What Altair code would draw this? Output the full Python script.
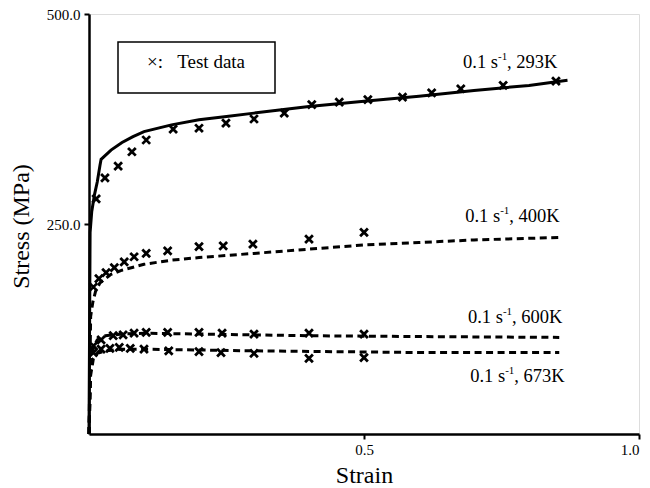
import altair as alt
import pandas as pd

# ---- data ----
x293 = [0, 0.002, 0.005, 0.01, 0.015, 0.02, 0.022, 0.04, 0.06, 0.08, 0.1, 0.15, 0.2, 0.25, 0.3, 0.35, 0.4, 0.5, 0.6, 0.7, 0.8, 0.87]
y293 = [0, 240, 265, 285, 300, 320, 327, 338, 347, 354, 360, 368, 374, 378, 382, 386, 390, 396, 402, 409, 415, 421]
m293x = [0.013, 0.029, 0.053, 0.078, 0.104, 0.153, 0.2, 0.249, 0.3, 0.355, 0.405, 0.455, 0.507, 0.57, 0.623, 0.676, 0.753, 0.849]
m293y = [280, 305, 319, 336, 350, 363, 364, 370, 375, 382, 392, 395, 398, 401, 406, 411, 415, 420]

x400 = [0, 0.003, 0.007, 0.012, 0.02, 0.04, 0.06, 0.1, 0.15, 0.2, 0.3, 0.4, 0.5, 0.6, 0.7, 0.855]
y400 = [0, 140, 157, 170, 180, 190, 195, 202, 207, 210, 215, 220, 225, 228, 231, 234]
m400x = [0.008, 0.018, 0.031, 0.046, 0.064, 0.082, 0.104, 0.143, 0.2, 0.244, 0.298, 0.4, 0.5]
m400y = [175, 185, 192, 198, 205, 211, 215, 218, 223, 224, 226, 232, 240]

x600 = [0, 0.003, 0.008, 0.015, 0.03, 0.06, 0.1, 0.2, 0.4, 0.6, 0.855]
y600 = [0, 80, 103, 112, 117, 119, 120, 119, 117, 116, 115]
m600x = [0.008, 0.022, 0.044, 0.062, 0.082, 0.104, 0.143, 0.2, 0.242, 0.3, 0.4, 0.5]
m600y = [105, 112, 117, 118, 120, 121, 121, 121, 120, 119, 120, 119]

x673 = [0, 0.003, 0.008, 0.015, 0.03, 0.06, 0.1, 0.3, 0.6, 0.855]
y673 = [0, 70, 90, 96, 99, 101, 101, 99, 97, 97]
m673x = [0.008, 0.022, 0.038, 0.055, 0.075, 0.1, 0.145, 0.2, 0.24, 0.3, 0.4, 0.5]
m673y = [97, 101, 102, 103, 102, 101, 99, 98, 97, 96, 90, 91]

series_names = ["293K", "400K", "600K", "673K"]
label_main = ["0.1 s", "0.1 s", "0.1 s", "0.1 s"]
label_sup = ["-1", "-1", "-1", "-1"]
label_tail = [", 293K", ", 400K", ", 600K", ", 673K"]
label_x = [0.68, 0.684, 0.689, 0.693]
label_y = [435.7, 252.4, 132.1, 61.9]

x_ticks = [0.5, 1.0]
y_ticks = [250, 500]

legend_text = "×:\u00a0\u00a0\u00a0Test data"

FONT = "Liberation Serif, Times New Roman, DejaVu Serif, serif"


def line_df(xs, ys):
    return pd.DataFrame({"x": xs, "y": ys, "i": range(len(xs))})


xs_scale = alt.Scale(domain=[0, 1], nice=False, zero=True)
ys_scale = alt.Scale(domain=[0, 500], nice=False)

x_axis = alt.Axis(values=x_ticks, format=".1f", title="Strain", grid=False,
                  labelFont=FONT, labelFontSize=15, labelColor="black",
                  titleFont=FONT, titleFontSize=24, titleFontWeight="normal", titleColor="black",
                  domainColor="black", domainWidth=2.5, tickColor="black", tickWidth=2, tickSize=5,
                  labelPadding=3, titleX=275, titleY=48, titleBaseline="alphabetic")
y_axis = alt.Axis(values=y_ticks, format=".1f", title="Stress (MPa)", grid=False,
                  labelFont=FONT, labelFontSize=15, labelColor="black",
                  titleFont=FONT, titleFontSize=24, titleFontWeight="normal", titleColor="black",
                  domainColor="black", domainWidth=2.5, tickColor="black", tickWidth=2, tickSize=5,
                  labelPadding=4, titleX=-68, titleY=212, titleAngle=-90, titleBaseline="middle",
                  titleAlign="center")

X = alt.X("x:Q", scale=xs_scale, axis=x_axis)
Y = alt.Y("y:Q", scale=ys_scale, axis=y_axis)
Xn = alt.X("x:Q", scale=xs_scale)
Yn = alt.Y("y:Q", scale=ys_scale)

layers = []

# solid 293K line
layers.append(alt.Chart(line_df(x293, y293)).mark_line(color="black", strokeWidth=3)
              .encode(x=X, y=Y, order="i:Q"))
# dashed lines
for xs, ys in [(x400, y400), (x600, y600), (x673, y673)]:
    layers.append(alt.Chart(line_df(xs, ys)).mark_line(color="black", strokeWidth=3, strokeDash=[7, 4.5])
                  .encode(x=Xn, y=Yn, order="i:Q"))

# markers
XPATH = "M-1,-1L1,1M1,-1L-1,1"
for xs, ys in [(m293x, m293y), (m400x, m400y), (m600x, m600y), (m673x, m673y)]:
    layers.append(alt.Chart(line_df(xs, ys)).mark_point(shape=XPATH, stroke="black", strokeWidth=2.8,
                                                        size=60, filled=False, opacity=1)
                  .encode(x=Xn, y=Yn))

# curve labels
lab = pd.DataFrame({"x": label_x, "y": label_y, "a": label_main, "b": label_sup, "c": label_tail})
base = alt.Chart(lab)
layers.append(base.mark_text(font=FONT, fontSize=18.5, align="left", baseline="alphabetic", color="black")
              .encode(x=Xn, y=Yn, text="a:N"))
layers.append(base.mark_text(font=FONT, fontSize=11, align="left", baseline="alphabetic", color="black",
                             dx=35, dy=-8)
              .encode(x=Xn, y=Yn, text="b:N"))
layers.append(base.mark_text(font=FONT, fontSize=18.5, align="left", baseline="alphabetic", color="black",
                             dx=44)
              .encode(x=Xn, y=Yn, text="c:N"))

# legend box
layers.append(alt.Chart(pd.DataFrame({"k": [0]})).mark_rect(fill="white", stroke="black", strokeWidth=1.5)
              .encode(x=alt.value(29), x2=alt.value(186), y=alt.value(28), y2=alt.value(79)))
layers.append(alt.Chart(pd.DataFrame({"t": [legend_text]})).mark_text(
    font=FONT, fontSize=19, align="left", baseline="alphabetic", color="black")
    .encode(x=alt.value(58), y=alt.value(54), text="t:N"))

chart = alt.layer(*layers).properties(
    width=550, height=420,
    autosize=alt.AutoSizeParams(type="none"),
    padding={"left": 81, "top": 6, "right": 3, "bottom": 52},
).configure_view(stroke=None).configure(background="white")

chart.save("out.html", embed_options={"renderer": "svg", "actions": False})
